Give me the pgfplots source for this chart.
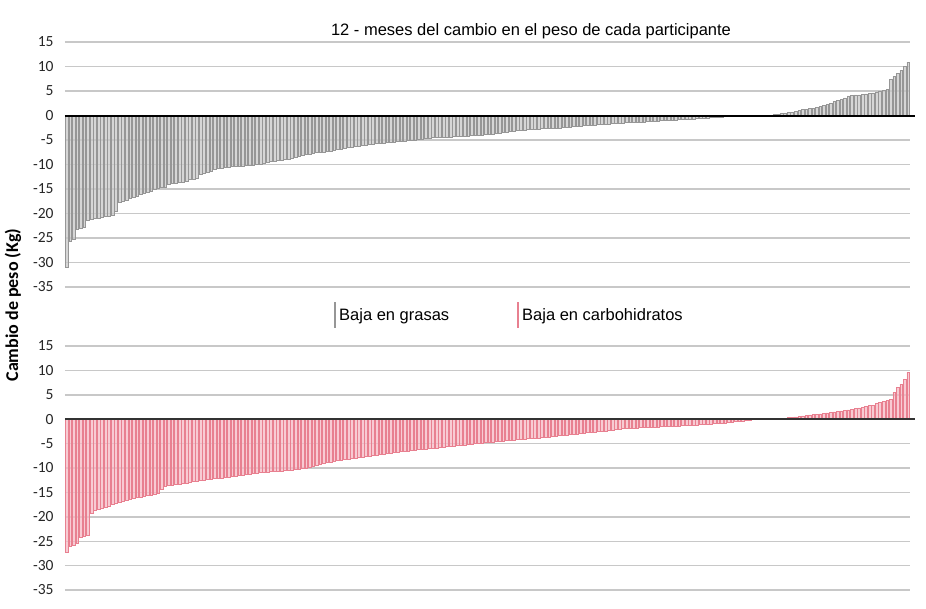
\documentclass[border=0pt]{standalone}
\usepackage{pgfplots}
\pgfplotsset{compat=1.18}
\usepackage{pgfplotstable}
\usepackage{fontspec}
\setmainfont{Liberation Sans}
\newfontfamily\calibri{Carlito}
\definecolor{grayfill}{RGB}{200,200,200}
\definecolor{grayedge}{RGB}{150,150,150}
\definecolor{redfill}{RGB}{246,185,196}
\definecolor{rededge}{RGB}{232,128,144}
\definecolor{gridgray}{RGB}{200,200,200}

\pgfplotstableread[row sep=\\]{v\\
-31.0\\ -25.6\\ -25.3\\ -23.2\\ -23.0\\ -22.8\\ -21.4\\ -21.2\\ -21.0\\ -20.9\\
-20.7\\ -20.6\\ -20.5\\ -20.3\\ -19.6\\ -17.8\\ -17.5\\ -17.2\\ -16.8\\ -16.6\\
-16.4\\ -16.0\\ -15.9\\ -15.7\\ -15.5\\ -15.0\\ -14.9\\ -14.7\\ -14.6\\ -14.0\\
-13.9\\ -13.8\\ -13.7\\ -13.6\\ -13.5\\ -13.1\\ -13.0\\ -12.8\\ -12.0\\ -11.8\\
-11.6\\ -11.4\\ -10.9\\ -10.8\\ -10.7\\ -10.6\\ -10.5\\ -10.4\\ -10.4\\ -10.3\\
-10.3\\ -10.2\\ -10.2\\ -10.1\\ -10.0\\ -9.9\\ -9.7\\ -9.5\\ -9.4\\ -9.3\\
-9.2\\ -9.1\\ -9.0\\ -8.9\\ -8.7\\ -8.5\\ -8.3\\ -8.2\\ -8.0\\ -7.9\\
-7.8\\ -7.6\\ -7.5\\ -7.4\\ -7.3\\ -7.2\\ -7.0\\ -6.9\\ -6.8\\ -6.6\\
-6.5\\ -6.4\\ -6.3\\ -6.2\\ -6.1\\ -6.0\\ -5.9\\ -5.8\\ -5.7\\ -5.6\\
-5.6\\ -5.5\\ -5.5\\ -5.4\\ -5.3\\ -5.3\\ -5.2\\ -5.1\\ -5.0\\ -5.0\\
-4.9\\ -4.8\\ -4.7\\ -4.6\\ -4.5\\ -4.5\\ -4.5\\ -4.4\\ -4.4\\ -4.4\\
-4.3\\ -4.3\\ -4.3\\ -4.2\\ -4.2\\ -4.1\\ -4.1\\ -4.0\\ -4.0\\ -3.9\\
-3.9\\ -3.8\\ -3.7\\ -3.6\\ -3.5\\ -3.4\\ -3.3\\ -3.2\\ -3.1\\ -3.0\\
-3.0\\ -2.9\\ -2.9\\ -2.8\\ -2.8\\ -2.7\\ -2.7\\ -2.6\\ -2.6\\ -2.5\\
-2.5\\ -2.4\\ -2.4\\ -2.3\\ -2.2\\ -2.2\\ -2.1\\ -2.0\\ -2.0\\ -1.9\\
-1.9\\ -1.8\\ -1.8\\ -1.7\\ -1.7\\ -1.6\\ -1.6\\ -1.5\\ -1.5\\ -1.4\\
-1.4\\ -1.4\\ -1.3\\ -1.3\\ -1.3\\ -1.2\\ -1.2\\ -1.1\\ -1.1\\ -1.0\\
-1.0\\ -1.0\\ -0.9\\ -0.9\\ -0.8\\ -0.8\\ -0.8\\ -0.7\\ -0.7\\ -0.6\\
-0.6\\ -0.5\\ -0.5\\ -0.4\\ -0.4\\ -0.3\\ -0.3\\ -0.2\\ 0\\ 0\\
0\\ 0\\ 0\\ 0\\ 0\\ 0\\ 0\\ 0\\ 0\\ 0\\
0.1\\ 0.2\\ 0.3\\ 0.4\\ 0.5\\ 0.6\\ 0.7\\ 0.9\\ 1.0\\ 1.2\\
1.3\\ 1.4\\ 1.5\\ 1.6\\ 1.8\\ 2.0\\ 2.2\\ 2.5\\ 2.9\\ 3.1\\
3.3\\ 3.6\\ 4.0\\ 4.1\\ 4.2\\ 4.2\\ 4.3\\ 4.4\\ 4.5\\ 4.6\\
4.8\\ 5.0\\ 5.2\\ 5.3\\ 7.3\\ 8.0\\ 8.6\\ 9.2\\ 10.0\\ 10.9\\
}\grasas

\pgfplotstableread[row sep=\\]{v\\
-27.2\\ -26.0\\ -25.8\\ -25.5\\ -24.2\\ -24.0\\ -23.8\\ -19.3\\ -18.6\\ -18.4\\
-18.2\\ -18.1\\ -17.9\\ -17.5\\ -17.3\\ -17.1\\ -16.9\\ -16.7\\ -16.4\\ -16.2\\
-16.0\\ -15.9\\ -15.7\\ -15.6\\ -15.5\\ -15.4\\ -15.2\\ -14.3\\ -13.8\\ -13.6\\
-13.5\\ -13.4\\ -13.3\\ -13.2\\ -13.1\\ -12.9\\ -12.8\\ -12.7\\ -12.6\\ -12.5\\
-12.4\\ -12.3\\ -12.2\\ -12.1\\ -12.0\\ -11.9\\ -11.8\\ -11.7\\ -11.6\\ -11.5\\
-11.4\\ -11.3\\ -11.2\\ -11.1\\ -11.0\\ -10.9\\ -10.8\\ -10.8\\ -10.7\\ -10.7\\
-10.6\\ -10.6\\ -10.5\\ -10.5\\ -10.4\\ -10.3\\ -10.2\\ -10.1\\ -10.0\\ -9.8\\
-9.6\\ -9.4\\ -9.2\\ -9.0\\ -8.9\\ -8.8\\ -8.7\\ -8.5\\ -8.4\\ -8.3\\
-8.2\\ -8.0\\ -7.9\\ -7.8\\ -7.7\\ -7.6\\ -7.5\\ -7.4\\ -7.3\\ -7.2\\
-7.1\\ -7.0\\ -6.9\\ -6.8\\ -6.7\\ -6.6\\ -6.6\\ -6.5\\ -6.4\\ -6.3\\
-6.2\\ -6.2\\ -6.1\\ -6.0\\ -6.0\\ -5.9\\ -5.8\\ -5.7\\ -5.6\\ -5.6\\
-5.5\\ -5.4\\ -5.3\\ -5.3\\ -5.2\\ -5.1\\ -5.0\\ -4.9\\ -4.9\\ -4.8\\
-4.7\\ -4.7\\ -4.6\\ -4.5\\ -4.5\\ -4.4\\ -4.3\\ -4.3\\ -4.2\\ -4.1\\
-4.1\\ -4.0\\ -3.9\\ -3.9\\ -3.8\\ -3.7\\ -3.6\\ -3.6\\ -3.5\\ -3.4\\
-3.3\\ -3.3\\ -3.2\\ -3.1\\ -3.0\\ -3.0\\ -2.9\\ -2.8\\ -2.7\\ -2.7\\
-2.6\\ -2.5\\ -2.4\\ -2.4\\ -2.3\\ -2.2\\ -2.1\\ -2.0\\ -1.9\\ -1.9\\
-1.8\\ -1.8\\ -1.8\\ -1.7\\ -1.7\\ -1.7\\ -1.6\\ -1.6\\ -1.6\\ -1.5\\
-1.5\\ -1.5\\ -1.4\\ -1.4\\ -1.4\\ -1.3\\ -1.3\\ -1.3\\ -1.2\\ -1.2\\
-1.1\\ -1.1\\ -1.0\\ -1.0\\ -0.9\\ -0.9\\ -0.8\\ -0.8\\ -0.7\\ -0.6\\
-0.5\\ -0.5\\ -0.4\\ -0.3\\ -0.2\\ -0.1\\ 0\\ 0\\ 0\\ 0\\
0\\ 0\\ 0.1\\ 0.1\\ 0.2\\ 0.3\\ 0.4\\ 0.5\\ 0.6\\ 0.7\\
0.8\\ 0.9\\ 1.0\\ 1.0\\ 1.1\\ 1.2\\ 1.3\\ 1.4\\ 1.5\\ 1.6\\
1.7\\ 1.8\\ 1.9\\ 2.0\\ 2.2\\ 2.3\\ 2.5\\ 2.6\\ 2.8\\ 2.9\\
3.2\\ 3.5\\ 3.6\\ 3.8\\ 4.0\\ 5.5\\ 6.5\\ 7.2\\ 8.1\\ 9.6\\
}\carbos

\pgfplotsset{
  panel/.style={
    scale only axis,
    width=845pt,
    xmin=0.5, xmax=240.5,
    ymin=-35, ymax=15,
    ytick={-35,-30,-25,-20,-15,-10,-5,0,5,10,15},
    yticklabels={-35,-30,-25,-20,-15,-10,-5,0,5,10,15},
    xtick=\empty,
    ymajorgrids,
    major grid style={gridgray, line width=1.4pt},
    axis line style={draw=none},
    major tick length=0pt,
    yticklabel style={font=\calibri\fontsize{15.5}{18}\selectfont, text=black!85, anchor=east, xshift=-8pt},
    clip=false,
  }
}

\begin{document}
\begin{tikzpicture}
\path[use as bounding box] (0,0) rectangle (926pt,-608pt);

\begin{axis}[panel, height=245pt, at={(65pt,-287pt)}, anchor=south west]
  \addplot[ybar, bar width=2.7pt, fill=grayfill, draw=grayedge, line width=0.5pt, fill opacity=0.75] table[x expr=\coordindex+1, y=v] {\grasas};
  \draw[black, line width=2pt] (axis cs:0.5,0) -- (axis cs:242,0);
\end{axis}

\begin{axis}[panel, height=244pt, at={(65pt,-590pt)}, anchor=south west]
  \addplot[ybar, bar width=2.7pt, fill=redfill, draw=rededge, line width=0.5pt, fill opacity=0.75] table[x expr=\coordindex+1, y=v] {\carbos};
  \draw[black!80, line width=1.6pt] (axis cs:0.5,0) -- (axis cs:242,0);
\end{axis}

\node[font=\fontsize{16.5}{19}\selectfont] at (531pt,-31pt) {12 - meses del cambio en el peso de cada participante};

\draw[grayedge, line width=1.5pt] (335pt,-302pt) -- (335pt,-328pt);
\node[anchor=west, inner sep=0pt, font=\fontsize{16.5}{19}\selectfont] at (339pt,-316pt) {Baja en grasas};
\draw[rededge, line width=1.5pt] (518pt,-302pt) -- (518pt,-328pt);
\node[anchor=west, inner sep=0pt, font=\fontsize{16.5}{19}\selectfont] at (522pt,-316pt) {Baja en carbohidratos};

\node[rotate=90, font=\calibri\bfseries\fontsize{18}{21}\selectfont] at (13pt,-305pt) {Cambio de peso (Kg)};
\end{tikzpicture}
\end{document}
